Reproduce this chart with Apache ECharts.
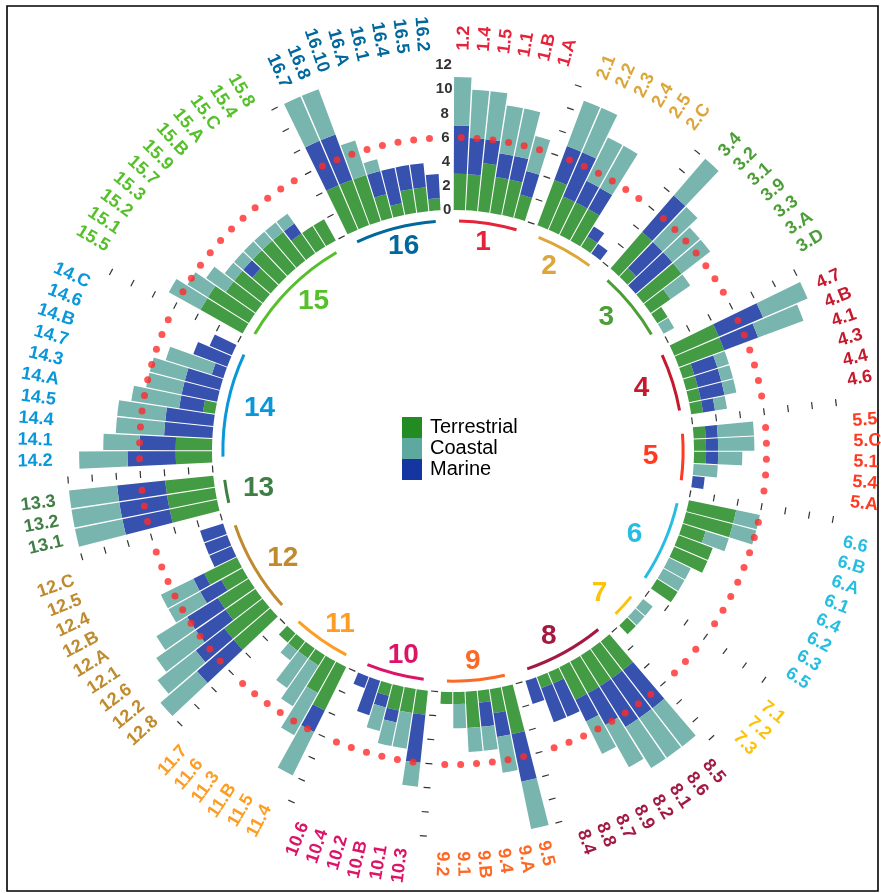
<!DOCTYPE html>
<html><head><meta charset="utf-8">
<script src="https://cdn.jsdelivr.net/npm/echarts@6/dist/echarts.min.js"></script>
<style>html,body{margin:0;padding:0;background:#fff}#c{width:881px;height:893px}</style>
</head><body><div id="c"></div>
<script>
const groupNames = ['1','2','3','4','5','6','7','8','9','10','11','12','13','14','15','16'];
const groupColors = ['#E5243B','#DDA63A','#4C9F38','#C5192D','#FF3A21','#26BDE2','#FCC30B','#A21942','#FD6925','#DD1367','#FD9D24','#BF8B2E','#3F7E44','#0A97D9','#56C02B','#00689D'];
const groupSizes = [6,6,7,6,5,8,3,8,6,6,6,9,3,10,11,8];
const targetLabels = [
 '1.2','1.4','1.5','1.1','1.B','1.A',
 '2.1','2.2','2.3','2.4','2.5','2.C',
 '3.4','3.2','3.1','3.9','3.3','3.A','3.D',
 '4.7','4.B','4.1','4.3','4.4','4.6',
 '5.5','5.C','5.1','5.4','5.A',
 '6.6','6.B','6.A','6.1','6.4','6.2','6.3','6.5',
 '7.1','7.2','7.3',
 '8.5','8.6','8.1','8.2','8.9','8.7','8.8','8.4',
 '9.5','9.A','9.4','9.B','9.1','9.2',
 '10.3','10.1','10.B','10.2','10.4','10.6',
 '11.4','11.5','11.B','11.3','11.6','11.7',
 '12.8','12.2','12.6','12.1','12.A','12.B','12.4','12.5','12.C',
 '13.1','13.2','13.3',
 '14.2','14.1','14.4','14.5','14.A','14.3','14.7','14.B','14.6','14.C',
 '15.5','15.1','15.2','15.3','15.7','15.9','15.B','15.A','15.C','15.4','15.8',
 '16.7','16.8','16.10','16.A','16.1','16.4','16.5','16.2'
];
const terrestrial = [
 3,3,4,3,3,2,
 4,3,3,3,1,0,
 4,1,0,4,2,1,0,
 4,4,1,1,1,1,
 1,1,1,0,0,
 4,4,2,3,3,0,0,2,
 0,0,1,
 3,3,3,3,3,1,1,0,
 4,2,1,3,1,1,
 2,2,2,1,0,0,
 4,3,1,1,1,1,
 4,4,3,3,2,3,0,0,0,
 4,4,4,
 3,3,0,0,1,0,0,0,0,0,
 4,4,3,3,2,3,3,3,2,2,2,
 4,4,4,2,1,2,2,1
];
const marine = [
 4,3,2,2,2,2,
 3,4,2,2,1,1,
 4,3,4,0,0,0,0,
 4,3,2,2,2,1,
 1,1,1,0,1,
 0,0,0,0,0,0,0,0,
 0,0,0,
 4,4,4,3,2,3,3,2,
 4,2,2,0,0,0,
 4,0,1,1,3,1,
 2,0,0,0,0,0,
 4,3,3,3,2,1,2,2,2,
 4,4,4,
 4,3,4,4,2,3,3,1,3,2,
 0,0,0,0,1,0,0,0,1,0,0,
 4,4,0,2,3,2,2,2
];
const coastal = [
 4,4,4,4,4,3,
 4,4,4,4,0,0,
 4,4,3,3,2,0,1,
 4,4,1,1,1,1,
 3,3,2,2,0,
 2,2,2,0,0,2,2,0,
 1,1,0,
 4,4,4,4,3,0,0,0,
 4,3,2,2,2,0,
 2,3,2,2,0,0,
 4,4,4,3,1,0,
 4,4,4,3,3,3,0,0,0,
 4,4,4,
 4,3,4,4,4,3,3,4,0,0,
 3,2,2,1,1,1,1,1,1,0,0,
 4,4,3,1,0,0,0,0
];
const radialTicks = [0,2,4,6,8,10,12];
const referenceValue = 6;

// categories: one empty slot before each group
const cats = [], catGroup = [], catTarget = [];
let k = 0;
groupSizes.forEach((n, g) => {
  cats.push('gap' + g); catGroup.push(g); catTarget.push(-1);
  for (let j = 0; j < n; j++) { cats.push(targetLabels[k]); catGroup.push(g); catTarget.push(k); k++; }
});
const groupFirst = [], groupLast = [];
catTarget.forEach((t, i) => {
  if (t < 0) return;
  const g = catGroup[i];
  if (groupFirst[g] === undefined) groupFirst[g] = i;
  groupLast[g] = i;
});
const col = arr => catTarget.map(t => t < 0 ? '-' : (arr[t] || '-'));
const FONT = 'Liberation Sans, Arial, sans-serif';

function frame(params, api, idx) {
  const cs = params.coordSys, cx = cs.cx, cy = cs.cy;
  const p0 = api.coord([0, idx]), p12 = api.coord([12, idx]);
  const r0 = Math.hypot(p0[0] - cx, p0[1] - cy), r12 = Math.hypot(p12[0] - cx, p12[1] - cy);
  const a = Math.atan2(p12[1] - cy, p12[0] - cx);
  return { cx, cy, r0, unit: (r12 - r0) / 12, a };
}

const chart = echarts.init(document.getElementById('c'), null, { renderer: 'canvas' });
chart.setOption({
  animation: false,
  backgroundColor: '#fff',
  polar: { center: [453, 451], radius: [241, 386] },
  angleAxis: {
    type: 'category', data: cats, startAngle: 92.85, clockwise: true,
    axisLine: { show: false }, axisTick: { show: false }, axisLabel: { show: false },
    splitLine: { show: false }, splitArea: { show: false }
  },
  radiusAxis: {
    min: 0, max: 12,
    axisLine: { show: false }, axisTick: { show: false }, axisLabel: { show: false },
    splitLine: { show: false }, splitArea: { show: false }
  },
  legend: {
    orient: 'vertical', left: 402, top: 417, padding: 0, itemWidth: 20, itemHeight: 21, itemGap: 0,
    icon: 'rect', selectedMode: false,
    textStyle: { fontSize: 20, color: '#000', fontFamily: FONT, padding: [0, 0, 0, 3] },
    data: [
      { name: 'Terrestrial', itemStyle: { color: '#228B22' } },
      { name: 'Coastal', itemStyle: { color: '#5FA8A0' } },
      { name: 'Marine', itemStyle: { color: '#1535A0' } }
    ]
  },
  graphic: [{
    type: 'rect', shape: { x: 7, y: 6, width: 871, height: 885 },
    style: { fill: 'none', stroke: '#000', lineWidth: 1.6 }, silent: true, z: -10
  }],
  series: [
    { name: 'Terrestrial', type: 'bar', coordinateSystem: 'polar', stack: 's', barCategoryGap: '8%',
      data: col(terrestrial), itemStyle: { color: '#439c43' }, silent: true },
    { name: 'Marine', type: 'bar', coordinateSystem: 'polar', stack: 's', barCategoryGap: '8%',
      data: col(marine), itemStyle: { color: '#3751ae' }, silent: true },
    { name: 'Coastal', type: 'bar', coordinateSystem: 'polar', stack: 's', barCategoryGap: '8%',
      data: col(coastal), itemStyle: { color: '#77b5ae' }, silent: true },
    { type: 'scatter', coordinateSystem: 'polar', z: 5, silent: true, symbolSize: 7,
      itemStyle: { color: '#ff2a2a' },
      data: catTarget.map((t, i) => t < 0 ? null : [referenceValue, i]).filter(d => d) },
    { type: 'custom', coordinateSystem: 'polar', z: 6, silent: true,
      data: cats.map((c, i) => [0, i]),
      renderItem(params, api) {
        const idx = api.value(1);
        const f = frame(params, api, idx);
        const ux = Math.cos(f.a), uy = Math.sin(f.a);
        const t = catTarget[idx], g = catGroup[idx];
        const children = [];
        if (t >= 0) {
          const rr = f.r0 + f.unit * 13.2;
          const right = g < 9;
          children.push({ type: 'text', x: f.cx + ux * rr, y: f.cy + uy * rr,
            rotation: right ? -f.a : Math.PI - f.a,
            style: { text: targetLabels[t], fill: groupColors[g], fontSize: 18, fontWeight: 'bold',
              fontFamily: FONT, align: right ? 'left' : 'right', verticalAlign: 'middle' } });
        } else if (idx === 0) {
          radialTicks.forEach(v => {
            const p = api.coord([v, idx]);
            children.push({ type: 'text', x: p[0], y: p[1],
              style: { text: String(v), fill: '#333', fontSize: 15, fontWeight: 'bold', fontFamily: FONT,
                align: 'center', verticalAlign: 'middle' } });
          });
        } else {
          radialTicks.forEach(v => {
            const rr = f.r0 + f.unit * v;
            const px = f.cx + ux * rr, py = f.cy + uy * rr;
            children.push({ type: 'line',
              shape: { x1: px - uy * 3.5, y1: py + ux * 3.5, x2: px + uy * 3.5, y2: py - ux * 3.5 },
              style: { stroke: '#333', lineWidth: 1.2 } });
          });
        }
        return { type: 'group', children };
      } },
    { type: 'custom', coordinateSystem: 'polar', z: 6, silent: true,
      data: groupNames.map((n, g) => [0, groupFirst[g]]),
      renderItem(params, api) {
        const g = params.dataIndex;
        const f1 = frame(params, api, groupFirst[g]);
        const f2 = frame(params, api, groupLast[g]);
        let s = f1.a, e = f2.a;
        if (e < s) e += Math.PI * 2;
        const rArc = f1.r0 - f1.unit * 0.9;
        const rx = f1.r0 - f1.unit * 3.6, ry = f1.r0 - f1.unit * 2.45;
        const mx = Math.cos(f1.a) + Math.cos(f2.a), my = Math.sin(f1.a) + Math.sin(f2.a);
        const ma = Math.atan2(my, mx);
        return { type: 'group', children: [
          { type: 'arc', shape: { cx: f1.cx, cy: f1.cy, r: rArc, startAngle: s, endAngle: e, clockwise: true },
            style: { stroke: groupColors[g], lineWidth: 3, fill: null } },
          { type: 'text', x: f1.cx + Math.cos(ma) * rx, y: f1.cy + Math.sin(ma) * ry,
            style: { text: groupNames[g], fill: groupColors[g], fontSize: 28, fontWeight: 'bold', fontFamily: FONT,
              align: 'center', verticalAlign: 'middle' } }
        ] };
      } }
  ]
});
</script></body></html>
